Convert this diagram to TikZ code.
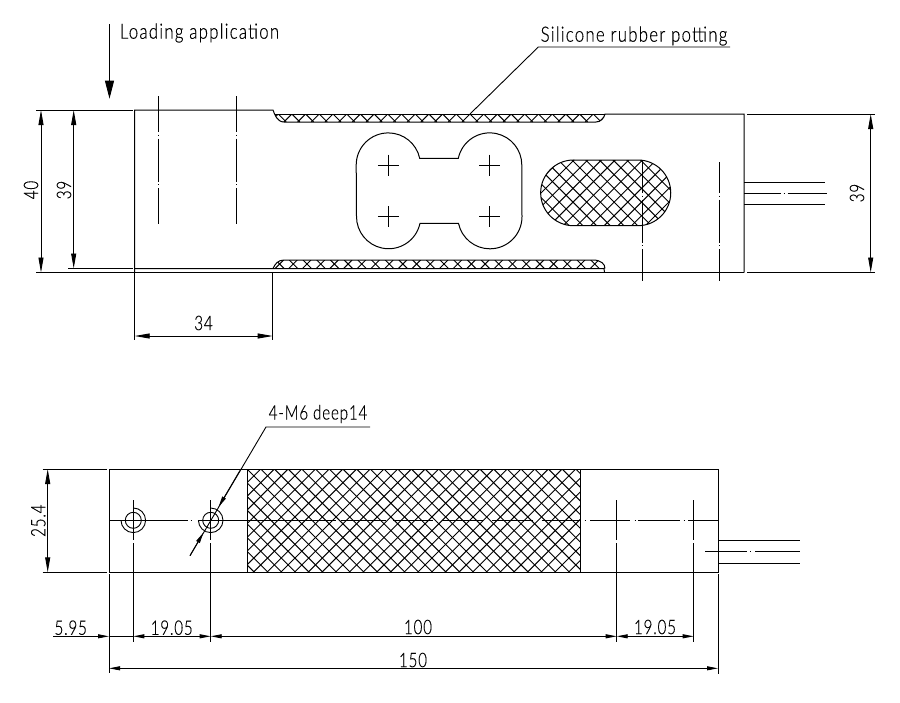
\documentclass[tikz,border=0pt]{standalone}
\usepackage{fontspec}
\setmainfont{Lato}[UprightFont=* Light,FakeStretch=0.76,LetterSpace=4,FakeBold=0.3]
\newfontfamily\notefont{Lato}[UprightFont=* Light,FakeStretch=0.8,LetterSpace=6,FakeBold=0.3]
\usetikzlibrary{arrows.meta}
\tikzset{
  part/.style={line width=1pt},
  thin part/.style={line width=0.9pt},
  hatchline/.style={line width=0.95pt},
  lbl/.style={inner sep=0pt,font=\fontsize{20}{22}\selectfont},
  note/.style={inner sep=0pt,font=\notefont\fontsize{21}{23}\selectfont},
  dim/.style={line width=0.9pt,{Triangle[length=15pt,width=5pt]}-{Triangle[length=15pt,width=5pt]}},
  dimsmall/.style={line width=0.9pt,{Triangle[length=11pt,width=4pt]}-{Triangle[length=11pt,width=4pt]}},
  tipend/.style={line width=0.9pt,-{Triangle[length=11pt,width=4pt]}},
  cline/.style={line width=0.9pt,dash pattern=on #1pt off 2.5pt on 1pt off 3pt on 43pt off 2.5pt on 1pt off 3pt on 90pt off 1pt}
}
\newcommand{\hatchfill}[4]{
  \foreach \k in {-26,...,26}{
    \pgfmathsetmacro{\cc}{#3-#4+13.7*\k}
    \pgfmathsetmacro{\dd}{#3+#4+13.7*\k}
    \draw[hatchline] (\cc+#1,#1) -- (\cc+#2,#2);
    \draw[hatchline] (\dd-#1,#1) -- (\dd-#2,#2);
  }
}
\newcommand{\crossmark}[2]{
  \draw[line width=0.7pt] (#1-10.5,#2) -- (#1+10.5,#2) (#1,#2-10.5) -- (#1,#2+10.5);
}
\begin{document}
\begin{tikzpicture}[x=1pt,y=1pt,yscale=-1]
\useasboundingbox (0,0) rectangle (900,702);
% side view
\draw[part] (36,110) -- (133,110);
\draw[part] (134.7,272.5) -- (134.7,110) -- (273,110) .. controls (274.5,114) and (277,122) .. (284,122) -- (596,122) .. controls (601,122) and (604,118) .. (605,114) -- (744,114) -- (744,272.5);
\draw[part] (275,114) -- (605,114);
\draw[part] (68,268.5) -- (133,268.5);
\draw[part] (134.7,268.5) -- (604,268.5) -- (604.5,272.5);
\draw[part] (273,268.5) .. controls (275,264) and (278,260) .. (284,260) -- (593,260) .. controls (601,260) and (605,264) .. (605,268.5);
\draw[part] (36,272.5) -- (744,272.5);
\draw[part] (747,114) -- (875,114) (747,272.5) -- (875,272.5);
\begin{scope}
  \clip (275,114) .. controls (277,119) and (279,122) .. (284,122) -- (596,122) .. controls (601,122) and (604,118) .. (605,114) -- cycle;
  \hatchfill{114}{122}{442.6}{114}
\end{scope}
\begin{scope}
  \clip (273,268.5) .. controls (275,264) and (278,260) .. (284,260) -- (593,260) .. controls (601,260) and (605,264) .. (605,268.5) -- cycle;
  \hatchfill{260}{268.5}{444}{264}
\end{scope}
\draw[part] (420,158.3) -- (458.3,158.3) arc (192:360:32.1) -- (522,216.7) arc (0:168:32.1) -- (420,223.3) arc (12:180:32.1) -- (356.2,165) arc (180:348:32.1) -- cycle;
\crossmark{388.3}{165}
\crossmark{388.3}{216.7}
\crossmark{489.7}{165}
\crossmark{489.7}{216.7}
\begin{scope}
  \clip (573.5,160) -- (637.9,160) arc (270:450:32.85) -- (573.5,225.7) arc (90:270:32.85) -- cycle;
  \hatchfill{150}{235}{586.7}{161}
\end{scope}
\draw[part] (573.5,160) -- (637.9,160) arc (270:450:32.85) -- (573.5,225.7) arc (90:270:32.85) -- cycle;
\draw[cline=36] (158.7,96) -- (158.7,224);
\draw[cline=36] (236.3,96) -- (236.3,224);
\draw[cline=33] (642.3,160) -- (642.3,280.7);
\draw[cline=31] (719.3,162) -- (719.3,280.7);
\draw[part] (744,182) -- (825,182) (744,204.5) -- (825,204.5);
\draw[cline=37] (744,193) -- (826.7,193);
\draw[thin part] (134.7,272.5) -- (134.7,340) (272.7,272.5) -- (272.7,340);
\draw[dim] (41,110) -- (41,272.5);
\draw[dim] (73.7,110) -- (73.7,268.5);
\draw[dim] (134.7,336) -- (272.7,336);
\draw[dim] (870.7,114) -- (870.7,272.5);
\draw[line width=0.9pt,-{Triangle[length=18pt,width=9pt]}] (109.5,24) -- (109.5,98.7);
\draw[thin part] (470,114) -- (538.3,47) -- (730,47);
\node[note] (loadlbl) at (199.5,33) {Loading application};
\node[note] (pottinglbl) at (634,36) {Silicone rubber potting};
\node[lbl,rotate=90] (dimforty) at (31,190) {40};
\node[lbl,rotate=90] (dimthirtynine) at (64,190) {39};
\node[lbl] (dimbase) at (203.5,323) {34};
\node[lbl,rotate=90] (dimrear) at (857,193) {39};
% plan view
\draw[part] (109,469) rectangle (718,572.3);
\begin{scope}
  \clip (247,469) rectangle (580,572.3);
  \hatchfill{469}{572.3}{411.4}{469}
\end{scope}
\draw[part] (247,469) -- (247,572.3) (580,469) -- (580,572.3);
\foreach \a/\b in {109/188,190.5/191.5,198/336,341/386,393/433,441.7/483,491.7/533,541.7/580,584.5/585.5,590/630,634.5/635.5,638/680,683.5/684.5,688/718}
  \draw[thin part] (\a,520.3) -- (\b,520.3);
\foreach \xpos in {133.3,210.7}{
  \draw[thin part] (\xpos,520.3) circle (8);
  \draw[thin part] (\xpos,508) arc (270:540:12.3);
}
\foreach \xpos in {133.3,210.7,616.7,693.7}
  \draw[thin part] (\xpos,500) -- (\xpos,540) (\xpos,543) -- (\xpos,641.7);
\draw[part] (718,540.3) -- (800,540.3) (718,563) -- (800,563);
\foreach \a/\b in {705/747,750/751,755/800}
  \draw[thin part] (\a,551.7) -- (\b,551.7);
\draw[thin part] (42.7,469) -- (106.7,469) (42.7,572.3) -- (106.7,572.3);
\draw[thin part] (109,574) -- (109,673.3) (718,574) -- (718,674);
\draw[dim] (47.7,469) -- (47.7,572.3);
\draw[tipend] (53,636.3) -- (109,636.3);
\draw[thin part] (109,636.3) -- (133.3,636.3);
\draw[dimsmall] (133.3,636.3) -- (210.7,636.3);
\draw[dimsmall] (210.7,636.3) -- (616.7,636.3);
\draw[dimsmall] (616.7,636.3) -- (693.7,636.3);
\draw[dimsmall] (109,668.3) -- (718,668.3);
\draw[thin part] (370,427) -- (266,427) -- (190,555.7);
\draw[tipend] (240,470.5) -- (218.5,507);
\draw[tipend] (190,555.7) -- (203.5,532.5);
\node[lbl] (holelbl) at (318,414) {4-M6 deep14};
\node[lbl,rotate=90] (dimwidth) at (38.3,520.7) {25.4};
\node[lbl] (dimoffset) at (70.7,627.7) {5.95};
\node[lbl] (dimpitchl) at (171.7,627.7) {19.05};
\node[lbl] (dimspan) at (418,627) {100};
\node[lbl] (dimpitchr) at (655,627) {19.05};
\node[lbl] (dimtotal) at (413,660) {150};
\end{tikzpicture}
\end{document}
